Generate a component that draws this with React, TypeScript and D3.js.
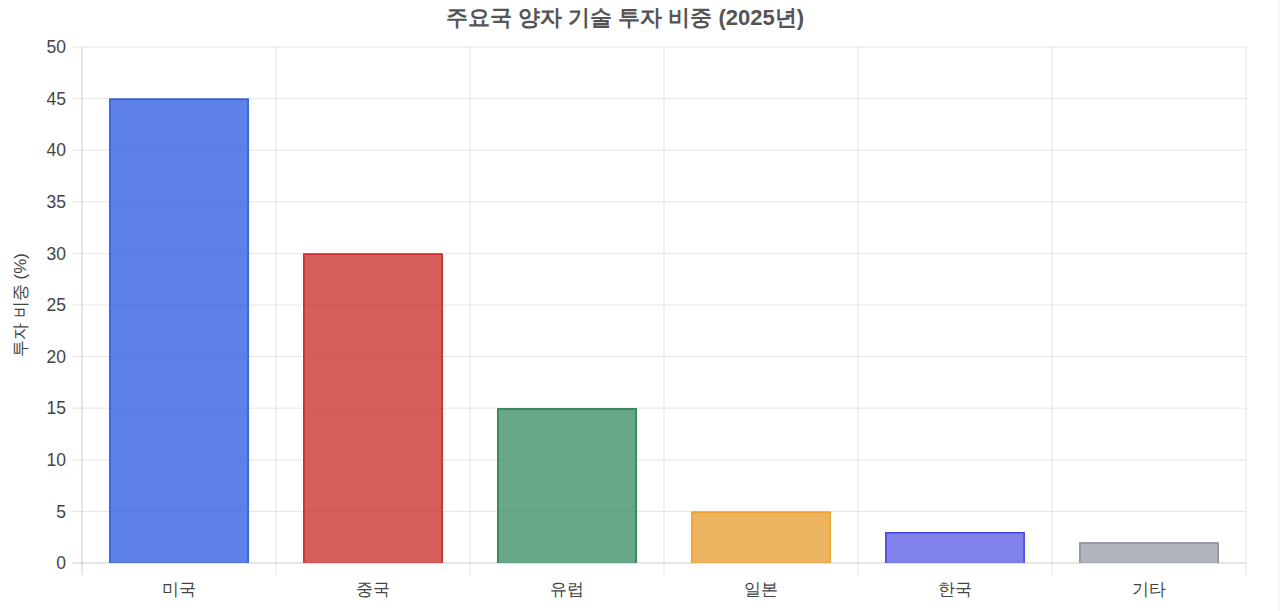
import React from "react";
import * as d3 from "d3";

const categories = ["미국", "중국", "유럽", "일본", "한국", "기타"];
const values = [45, 30, 15, 5, 3, 2];
const fills = [
  "rgba(26,75,222,0.7)",
  "rgba(196,26,22,0.7)",
  "rgba(38,131,88,0.7)",
  "rgba(229,148,28,0.7)",
  "rgba(77,77,226,0.7)",
  "rgba(142,148,159,0.7)",
];
const borders = ["#2b5fe6", "#c82828", "#2e7d55", "#f0a030", "#4444e0", "#8a8f99"];
const yTicks = [0, 5, 10, 15, 20, 25, 30, 35, 40, 45, 50];
const title = "주요국 양자 기술 투자 비중 (2025년)";
const yTitle = "투자 비중 (%)";

const W = 1280;
const H = 611;
const left = 82;
const right = 1246;
const top = 47;
const bottom = 563;
const font = "'Liberation Sans', Arial, Helvetica, sans-serif";

export default function App() {
  const x = d3.scaleBand<string>().domain(categories).range([left, right]).paddingInner(0).paddingOuter(0);
  const y = d3.scaleLinear().domain([0, 50]).range([bottom, top]);
  const bw = x.bandwidth() * 0.72;
  const grid = "rgba(0,0,0,0.1)";
  const boundaries = categories.map((c) => x(c) as number).concat([right]);

  return (
    <div style={{ position: "absolute", left: 0, top: 0 }}>
      <svg width={W} height={H} style={{ display: "block", fontFamily: font }}>
        <rect width={W} height={H} fill="#fff" />
        <rect x={1278} y={0} width={2} height={H} fill="#f7f7f7" />
        <text x={625} y={25} textAnchor="middle" fontSize={22} fontWeight="bold" fill="#555">
          {title}
        </text>
        {yTicks.map((t) => (
          <g key={t}>
            <line x1={left - 10} x2={right} y1={y(t)} y2={y(t)} stroke={t === 0 ? "rgba(0,0,0,0.2)" : grid} strokeWidth={1} />
            <text x={66} y={y(t)} dy="0.35em" textAnchor="end" fontSize={17.5} fill="#444">
              {t}
            </text>
          </g>
        ))}
        {boundaries.map((b, i) => (
          <line key={i} x1={b} x2={b} y1={top} y2={bottom + 12} stroke={i === 0 ? "rgba(0,0,0,0.2)" : grid} strokeWidth={1} />
        ))}
        {categories.map((c, i) => {
          const cx = (x(c) as number) + x.bandwidth() / 2;
          const x0 = cx - bw / 2;
          const y0 = y(values[i]);
          return (
            <g key={c}>
              <rect x={x0} y={y0} width={bw} height={bottom - y0} fill={fills[i]} />
              <path
                d={`M${x0 + 0.75},${bottom} L${x0 + 0.75},${y0 + 0.75} L${x0 + bw - 0.75},${y0 + 0.75} L${x0 + bw - 0.75},${bottom}`}
                fill="none"
                stroke={borders[i]}
                strokeWidth={1.5}
              />
              <text x={cx} y={589} dy="0.35em" textAnchor="middle" fontSize={17} fill="#444">
                {c}
              </text>
            </g>
          );
        })}
        <text
          transform={`translate(20,${(top + bottom) / 2}) rotate(-90)`}
          textAnchor="middle"
          dy="0.35em"
          fontSize={17}
          fill="#444"
        >
          {yTitle}
        </text>
      </svg>
    </div>
  );
}
